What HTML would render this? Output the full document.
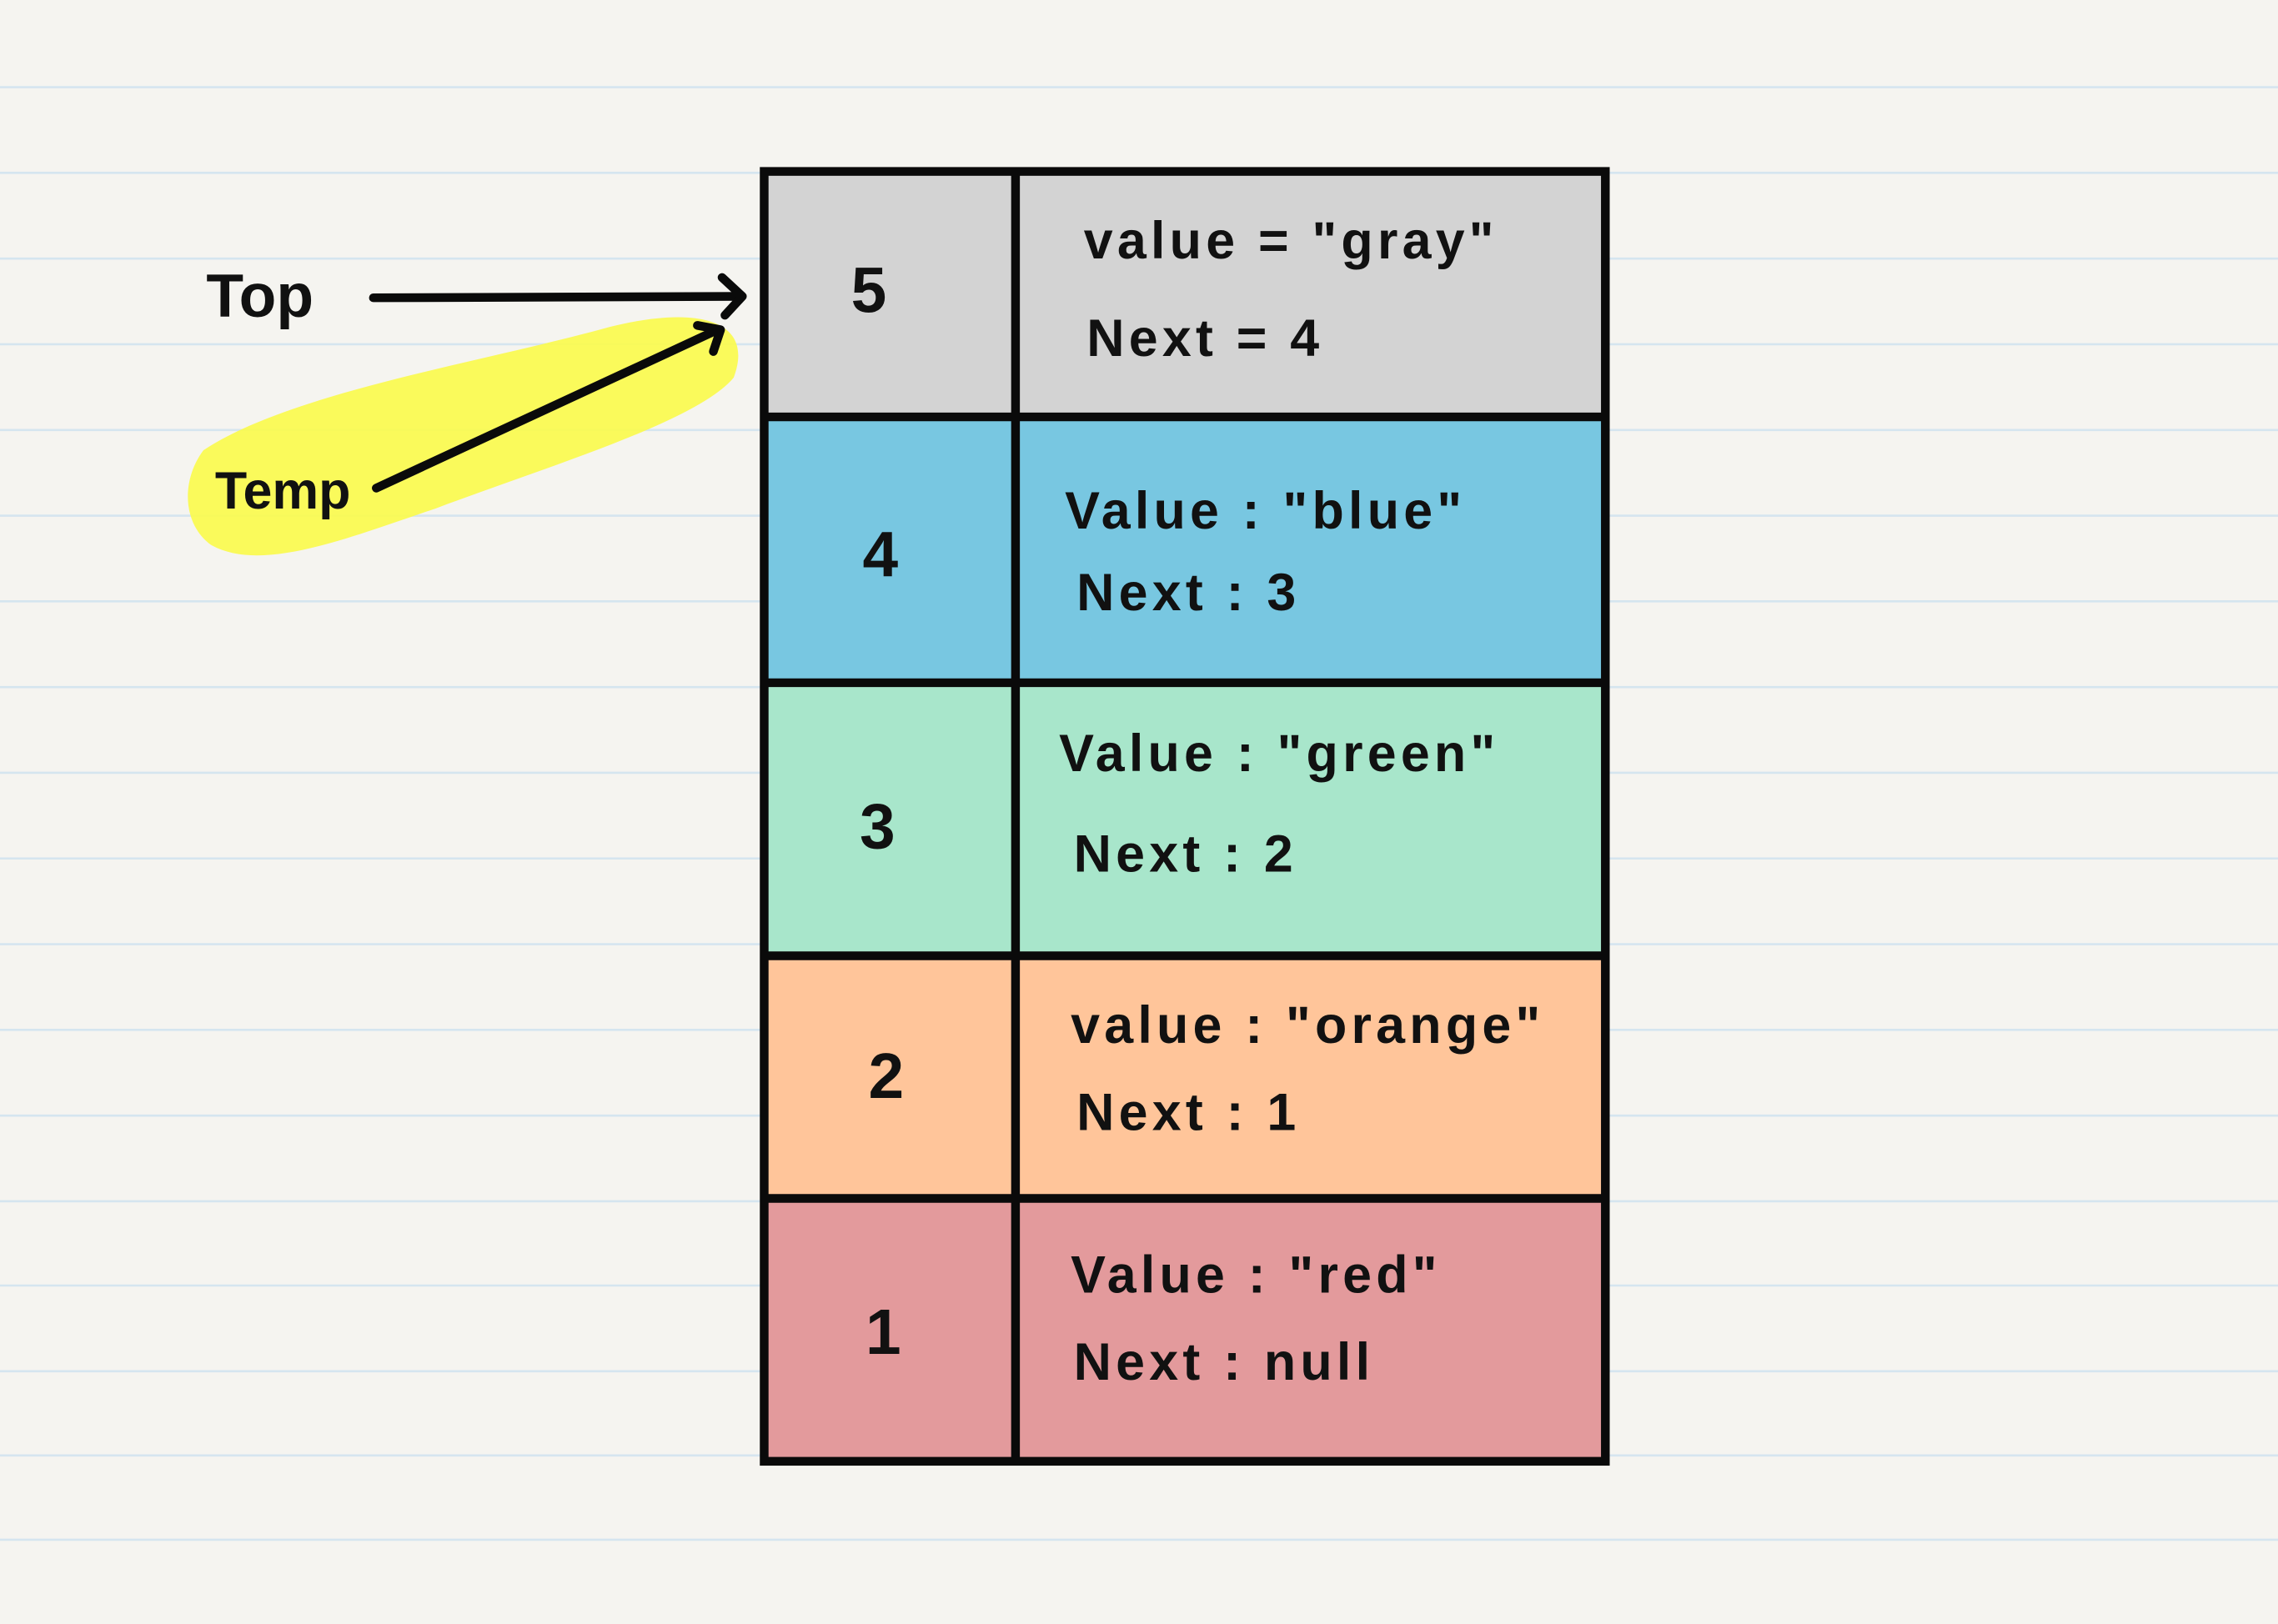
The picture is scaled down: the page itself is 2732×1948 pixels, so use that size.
<!DOCTYPE html>
<html><head><meta charset="utf-8"><style>
html,body{margin:0;padding:0;background:#f5f4f0;}
svg{display:block}
text{font-family:"Liberation Sans",sans-serif;fill:#111;font-weight:bold;}
</style></head><body>
<svg width="2732" height="1948" viewBox="0 0 1568 1118" xmlns="http://www.w3.org/2000/svg">
<rect width="1568" height="1118" fill="#f5f4f0"/>
<g stroke="#d5e5ef" stroke-width="1.5">
<line x1="0" y1="60" x2="1568" y2="60"/><line x1="0" y1="119" x2="1568" y2="119"/>
<line x1="0" y1="178" x2="1568" y2="178"/><line x1="0" y1="237" x2="1568" y2="237"/>
<line x1="0" y1="296" x2="1568" y2="296"/><line x1="0" y1="355" x2="1568" y2="355"/>
<line x1="0" y1="414" x2="1568" y2="414"/><line x1="0" y1="473" x2="1568" y2="473"/>
<line x1="0" y1="532" x2="1568" y2="532"/><line x1="0" y1="591" x2="1568" y2="591"/>
<line x1="0" y1="650" x2="1568" y2="650"/><line x1="0" y1="709" x2="1568" y2="709"/>
<line x1="0" y1="768" x2="1568" y2="768"/><line x1="0" y1="827" x2="1568" y2="827"/>
<line x1="0" y1="885" x2="1568" y2="885"/><line x1="0" y1="944" x2="1568" y2="944"/>
<line x1="0" y1="1002" x2="1568" y2="1002"/><line x1="0" y1="1060" x2="1568" y2="1060"/>
</g>
<path d="M140,310 C200,270 330,250 420,225 C480,210 520,220 505,260 C480,290 380,320 300,350 C240,370 180,395 145,375 C125,360 125,330 140,310 Z" fill="#fbfb4a" opacity="0.9"/>
<rect x="526" y="118" width="579" height="169" fill="#d3d3d3"/>
<rect x="526" y="287" width="579" height="183" fill="#78c7e1"/>
<rect x="526" y="470" width="579" height="188" fill="#a8e6cb"/>
<rect x="526" y="658" width="579" height="167" fill="#ffc59a"/>
<rect x="526" y="825" width="579" height="181" fill="#e39a9c"/>
<g stroke="#0a0a0a" stroke-width="6" fill="none">
<rect x="526" y="118" width="579" height="888"/>
<line x1="699" y1="118" x2="699" y2="1006"/>
<line x1="526" y1="287" x2="1105" y2="287"/>
<line x1="526" y1="470" x2="1105" y2="470"/>
<line x1="526" y1="658" x2="1105" y2="658"/>
<line x1="526" y1="825" x2="1105" y2="825"/>
</g>
<g stroke="#0a0a0a" stroke-width="6" fill="none" stroke-linecap="round" stroke-linejoin="round">
<line x1="257" y1="205" x2="510" y2="204"/>
<polyline points="497,191 511,204 499,217"/>
<line x1="259" y1="336" x2="494" y2="227"/>
<polyline points="480,224 496,227 491,242"/>
</g>
<text x="142" y="218" font-size="42" font-weight="normal">Top</text>
<text x="148" y="350" font-size="36">Temp</text>
<g font-size="44" text-anchor="middle">
<text x="598" y="215">5</text>
<text x="606" y="397">4</text>
<text x="604" y="584">3</text>
<text x="610" y="756">2</text>
<text x="608" y="932">1</text>
</g>
<g font-size="36" letter-spacing="3" xml:space="preserve">
<text x="746" y="178">value  = "gray"</text>
<text x="748" y="245">Next =  4</text>
<text x="733" y="364">Value : "blue"</text>
<text x="741" y="420">Next :   3</text>
<text x="729" y="531">Value : "green"</text>
<text x="739" y="600">Next :  2</text>
<text x="737" y="718">value  :  "orange"</text>
<text x="741" y="778">Next  :  1</text>
<text x="737" y="890">Value :  "red"</text>
<text x="739" y="950">Next :  null</text>
</g>
</svg>
</body></html>
